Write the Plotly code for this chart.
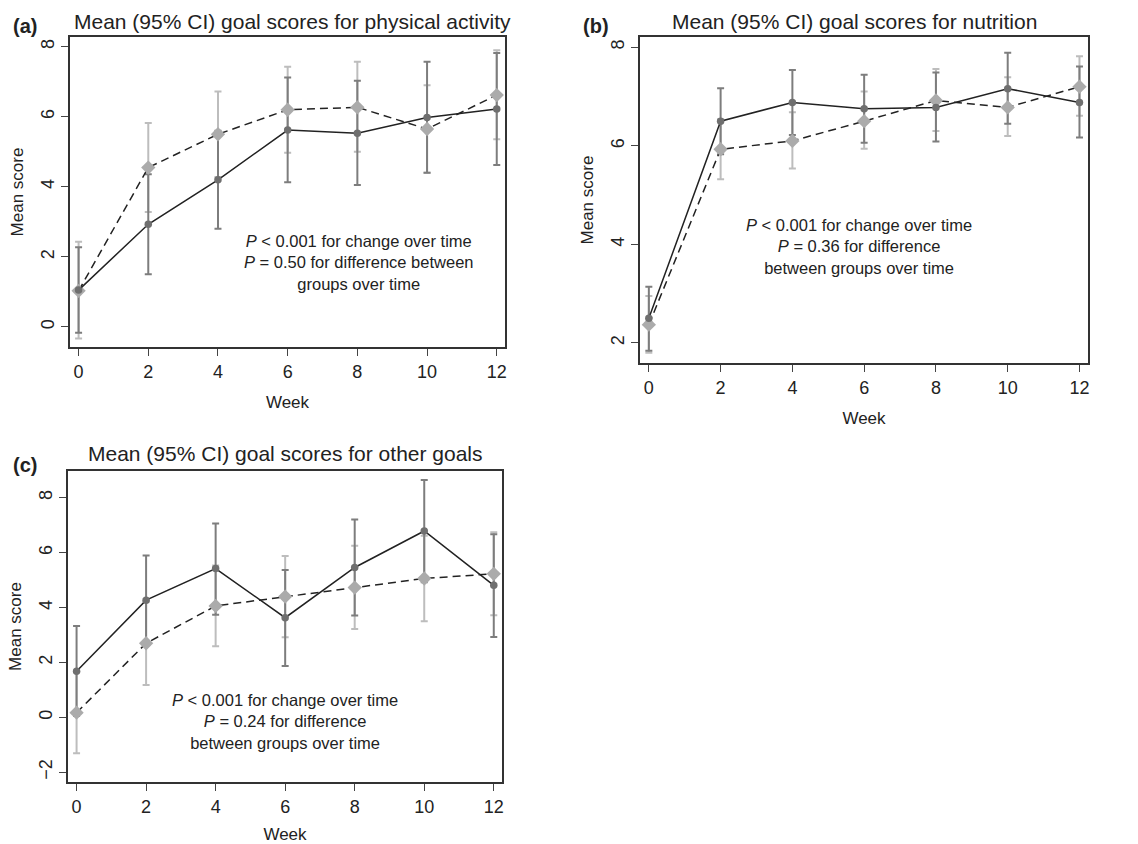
import plotly.graph_objects as go

weeks = [0, 2, 4, 6, 8, 10, 12]

# Panel (a) physical activity
a_g1_mean = [1.05, 2.93, 4.20, 5.62, 5.53, 5.98, 6.22]
a_g1_lo = [-0.17, 1.50, 2.80, 4.13, 4.05, 4.40, 4.62]
a_g1_hi = [2.27, 4.36, 5.60, 7.12, 7.03, 7.57, 7.82]
a_g2_mean = [1.03, 4.55, 5.50, 6.20, 6.27, 5.65, 6.62]
a_g2_lo = [-0.33, 3.28, 4.28, 4.97, 5.00, 4.40, 5.36]
a_g2_hi = [2.43, 5.82, 6.72, 7.43, 7.57, 6.90, 7.90]

# Panel (b) nutrition
b_g1_mean = [2.50, 6.50, 6.88, 6.75, 6.78, 7.16, 6.88]
b_g1_lo = [1.84, 5.83, 6.22, 6.06, 6.09, 6.45, 6.17]
b_g1_hi = [3.14, 7.17, 7.54, 7.44, 7.49, 7.89, 7.61]
b_g2_mean = [2.37, 5.93, 6.10, 6.50, 6.92, 6.78, 7.20]
b_g2_lo = [1.80, 5.32, 5.54, 5.94, 6.30, 6.20, 6.61]
b_g2_hi = [2.95, 6.54, 6.68, 7.10, 7.56, 7.39, 7.82]

# Panel (c) other goals
c_g1_mean = [1.68, 4.27, 5.42, 3.63, 5.46, 6.79, 4.81]
c_g1_lo = [0.05, 2.63, 3.74, 1.87, 3.71, 4.92, 2.93]
c_g1_hi = [3.33, 5.90, 7.06, 5.37, 7.21, 8.65, 6.67]
c_g2_mean = [0.17, 2.70, 4.06, 4.40, 4.73, 5.06, 5.23]
c_g2_lo = [-1.31, 1.18, 2.59, 2.92, 3.22, 3.50, 3.72]
c_g2_hi = [1.65, 4.22, 5.53, 5.88, 6.25, 6.62, 6.74]

panel_titles = ["Mean (95% CI) goal scores for physical activity",
                "Mean (95% CI) goal scores for nutrition",
                "Mean (95% CI) goal scores for other goals"]
panel_letters = ["(a)", "(b)", "(c)"]
notes = ["<i>P</i> < 0.001 for change over time<br><i>P</i> = 0.50 for difference between<br>groups over time",
         "<i>P</i> < 0.001 for change over time<br><i>P</i> = 0.36 for difference<br>between groups over time",
         "<i>P</i> < 0.001 for change over time<br><i>P</i> = 0.24 for difference<br>between groups over time"]

W, H = 1138, 844
FONT = "Liberation Sans, Arial, sans-serif"
TXT = "#222222"
DARK_PT = "#6f6f6f"
LIGHT_PT = "#ababab"
DARK_EB = "#7d7d7d"
LIGHT_EB = "#bdbdbd"

# pixel boxes (left, right, top, bottom)
boxes = [(70, 506, 37, 348), (641, 1090, 37, 364), (68, 503, 472, 784)]
yranges = [[-0.58, 8.28], [1.59, 8.21], [-2.36, 8.98]]
yticks = [[0, 2, 4, 6, 8], [2, 4, 6, 8], [-2, 0, 2, 4, 6, 8]]
note_pos = [(8.06, 1.84), (5.86, 3.95), (6.0, -0.15)]
title_pos = [(293, 22), (856, 22), (286, 455)]
letter_pos = [(25, 26), (597, 26), (25, 466)]

data = [
    (a_g1_mean, a_g1_lo, a_g1_hi, a_g2_mean, a_g2_lo, a_g2_hi),
    (b_g1_mean, b_g1_lo, b_g1_hi, b_g2_mean, b_g2_lo, b_g2_hi),
    (c_g1_mean, c_g1_lo, c_g1_hi, c_g2_mean, c_g2_lo, c_g2_hi),
]

fig = go.Figure()
layout = {}
annotations = []

for i, (g1m, g1l, g1h, g2m, g2l, g2h) in enumerate(data):
    xa = "x" if i == 0 else f"x{i+1}"
    ya = "y" if i == 0 else f"y{i+1}"
    xkey = "xaxis" if i == 0 else f"xaxis{i+1}"
    ykey = "yaxis" if i == 0 else f"yaxis{i+1}"
    L, R, T, B = boxes[i]

    def eb(m, lo, hi, col):
        return dict(type="data", symmetric=False,
                    array=[h - v for h, v in zip(hi, m)],
                    arrayminus=[v - l for v, l in zip(m, lo)],
                    color=col, thickness=2, width=3.5)

    # error bars (behind lines)
    fig.add_trace(go.Scatter(x=weeks, y=g2m, mode="markers", xaxis=xa, yaxis=ya,
                             marker=dict(size=1, color="rgba(0,0,0,0)"),
                             error_y=eb(g2m, g2l, g2h, LIGHT_EB), showlegend=False, hoverinfo="skip"))
    fig.add_trace(go.Scatter(x=weeks, y=g1m, mode="markers", xaxis=xa, yaxis=ya,
                             marker=dict(size=1, color="rgba(0,0,0,0)"),
                             error_y=eb(g1m, g1l, g1h, DARK_EB), showlegend=False, hoverinfo="skip"))
    # lines with markers
    fig.add_trace(go.Scatter(x=weeks, y=g2m, mode="lines+markers", xaxis=xa, yaxis=ya,
                             line=dict(color="#222222", width=1.5, dash="8px,5px"),
                             marker=dict(symbol="diamond", size=11, color=LIGHT_PT),
                             showlegend=False))
    fig.add_trace(go.Scatter(x=weeks, y=g1m, mode="lines+markers", xaxis=xa, yaxis=ya,
                             line=dict(color="#222222", width=1.5),
                             marker=dict(symbol="circle", size=7.5, color=DARK_PT),
                             showlegend=False))

    layout[xkey] = dict(domain=[L / W, R / W], anchor=ya, range=[-0.25, 12.24],
                        tickvals=[0, 2, 4, 6, 8, 10, 12], ticks="outside", ticklen=7,
                        tickwidth=1.2, tickcolor="#444", showline=True, mirror=True,
                        linecolor="#333", linewidth=2, showgrid=False, zeroline=False,
                        tickfont=dict(size=18, family=FONT, color=TXT),
                        title=dict(text="Week", font=dict(size=17, family=FONT, color=TXT), standoff=15))
    layout[ykey] = dict(domain=[1 - B / H, 1 - T / H], anchor=xa, range=yranges[i],
                        tickvals=yticks[i], ticks="outside", ticklen=7, tickangle=-90,
                        tickwidth=1.2, tickcolor="#444", showline=True, mirror=True,
                        linecolor="#333", linewidth=1.5, showgrid=False, zeroline=False,
                        tickfont=dict(size=18, family=FONT, color=TXT),
                        title=dict(text="Mean score", font=dict(size=17, family=FONT, color=TXT), standoff=10))

    nx, ny = note_pos[i]
    annotations.append(dict(x=nx, y=ny, xref=xa, yref=ya, text=notes[i], showarrow=False,
                            align="center", font=dict(size=16.5, family=FONT, color=TXT)))
    tx, ty = title_pos[i]
    annotations.append(dict(x=tx / W, y=1 - ty / H, xref="paper", yref="paper", text=panel_titles[i],
                            showarrow=False, xanchor="center", yanchor="middle",
                            font=dict(size=21, family=FONT, color=TXT)))
    lx, ly = letter_pos[i]
    annotations.append(dict(x=lx / W, y=1 - ly / H, xref="paper", yref="paper",
                            text="<b>" + panel_letters[i] + "</b>",
                            showarrow=False, xanchor="center", yanchor="middle",
                            font=dict(size=20, family=FONT, color=TXT)))

fig.update_layout(width=W, height=H, margin=dict(l=0, r=0, t=0, b=0),
                  paper_bgcolor="white", plot_bgcolor="white", showlegend=False,
                  hovermode=False, annotations=annotations, **layout)

fig.write_html("out.html", config={"displayModeBar": False},
               post_script="document.body.style.margin='0px';")
